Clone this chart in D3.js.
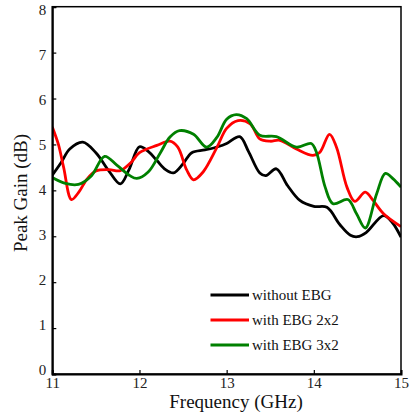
<!DOCTYPE html>
<html><head><meta charset="utf-8">
<script src="https://cdn.jsdelivr.net/npm/d3@7"></script>
<style>body{margin:0;background:#fff;font-family:"Liberation Serif"}svg{display:block}</style>
</head><body>
<script>
const xTicks = [11, 12, 13, 14, 15];
const yTicks = [0, 1, 2, 3, 4, 5, 6, 7, 8];
const seriesNames = ["without EBG", "with EBG 2x2", "with EBG 3x2"];
const seriesColors = ["#000000", "#ff0000", "#008000"];

const freqBlack = [11.0,11.1,11.2,11.35,11.5,11.65,11.78,11.88,12.0,12.1,12.2,12.3,12.39,12.5,12.6,12.75,12.9,13.0,13.15,13.25,13.38,13.45,13.57,13.7,13.84,14.0,14.15,14.3,14.42,14.5,14.6,14.8,14.9,15.0];
const gainBlack = [4.33,4.6,4.9,5.05,4.82,4.42,4.14,4.45,4.95,4.85,4.65,4.45,4.38,4.58,4.82,4.88,4.95,5.02,5.17,4.85,4.38,4.32,4.47,4.1,3.78,3.65,3.63,3.25,3.02,2.99,3.08,3.45,3.3,2.98];

const freqRed = [11.0,11.07,11.13,11.22,11.3,11.4,11.5,11.65,11.78,11.9,12.0,12.2,12.35,12.44,12.54,12.62,12.73,12.89,13.0,13.13,13.27,13.38,13.5,13.61,13.8,13.99,14.07,14.18,14.26,14.38,14.47,14.59,14.68,14.8,15.0];
const gainRed = [5.38,5.0,4.5,3.8,3.95,4.25,4.42,4.45,4.43,4.6,4.82,4.98,5.07,4.94,4.45,4.23,4.4,4.94,5.35,5.52,5.45,5.12,5.07,5.09,4.9,4.76,4.83,5.22,4.94,4.07,3.76,3.96,3.78,3.49,3.21];

const freqGreen = [11.0,11.15,11.3,11.45,11.6,11.74,11.89,11.97,12.1,12.24,12.35,12.46,12.62,12.77,12.89,13.0,13.11,13.23,13.38,13.57,13.8,13.97,14.03,14.13,14.22,14.39,14.49,14.59,14.72,14.82,14.91,15.0];
const gainGreen = [4.28,4.15,4.13,4.32,4.74,4.55,4.32,4.26,4.4,4.82,5.16,5.3,5.22,4.94,5.16,5.55,5.65,5.56,5.2,5.17,4.94,5.02,4.83,4.07,3.71,3.8,3.49,3.18,3.92,4.37,4.25,4.07];

const W = 410, H = 416;
const L = 52.3, R = 401, T = 6.7, B = 374;
const FONT = "Liberation Serif";
const svg = d3.select("body").append("svg").attr("width", W).attr("height", H)
  .attr("font-family", FONT).style("font-family", FONT);
const x = d3.scaleLinear().domain([11, 15]).range([L, R]);
const y = d3.scaleLinear().domain([0, 8]).range([B, T]);

const series = [
  {name: seriesNames[0], color: seriesColors[0], f: freqBlack, g: gainBlack},
  {name: seriesNames[1], color: seriesColors[1], f: freqRed, g: gainRed},
  {name: seriesNames[2], color: seriesColors[2], f: freqGreen, g: gainGreen}
];

const line = d3.line().x(d => x(d[0])).y(d => y(d[1])).curve(d3.curveCatmullRom.alpha(0.5));
svg.append("clipPath").attr("id", "c").append("rect")
  .attr("x", L).attr("y", T).attr("width", R - L).attr("height", B - T);
const g = svg.append("g").attr("clip-path", "url(#c)");
series.forEach(s => {
  g.append("path").datum(s.f.map((f, i) => [f, s.g[i]]))
    .attr("d", line).attr("fill", "none").attr("stroke", s.color)
    .attr("stroke-width", 2.8).attr("stroke-linejoin", "round");
});

// frame
svg.append("rect").attr("x", L).attr("y", T).attr("width", R - L).attr("height", B - T)
  .attr("fill", "none").attr("stroke", "#000").attr("stroke-width", 1.5);

// axes with inward ticks
const xAxis = d3.axisBottom(x).tickValues(xTicks).tickSize(-4).tickPadding(3).tickFormat(d3.format("d"));
const xg = svg.append("g").attr("transform", `translate(0,${B})`).call(xAxis);
const yAxis = d3.axisLeft(y).tickValues(yTicks).tickSize(-4).tickPadding(6).tickFormat(d3.format("d"));
const yg = svg.append("g").attr("transform", `translate(${L},0)`).call(yAxis);
[xg, yg].forEach(a => {
  a.attr("font-family", FONT).style("font-family", FONT);
  a.select(".domain").attr("stroke", "#000").attr("stroke-width", 2);
  a.selectAll(".tick line").attr("stroke", "#000").attr("stroke-width", 1.2);
  a.selectAll(".tick text").attr("font-size", 15).attr("fill", "#222")
    .attr("font-family", FONT).style("font-family", FONT);
});
yg.selectAll(".tick text").attr("dy", d => (0.32 + (-4.5 + d * 0.98) / 15) + "em");

// axis titles
svg.append("text").attr("x", 236).attr("y", 408).attr("text-anchor", "middle")
  .attr("font-size", 19).attr("fill", "#111").attr("font-family", FONT).style("font-family", FONT)
  .text("Frequency (GHz)");
svg.append("text").attr("transform", "translate(27,193) rotate(-90)").attr("text-anchor", "middle")
  .attr("font-size", 19).attr("fill", "#111").attr("font-family", FONT).style("font-family", FONT)
  .text("Peak Gain (dB)");

// legend
const lg = svg.append("g");
series.forEach((s, i) => {
  const yy = 295 + i * 25;
  lg.append("line").attr("x1", 210.5).attr("x2", 249).attr("y1", yy).attr("y2", yy)
    .attr("stroke", s.color).attr("stroke-width", 3);
  lg.append("text").attr("x", 252).attr("y", yy).attr("dy", "0.35em")
    .attr("font-size", 15).attr("fill", "#111").attr("font-family", FONT).style("font-family", FONT)
    .text(s.name);
});
</script>
</body></html>
